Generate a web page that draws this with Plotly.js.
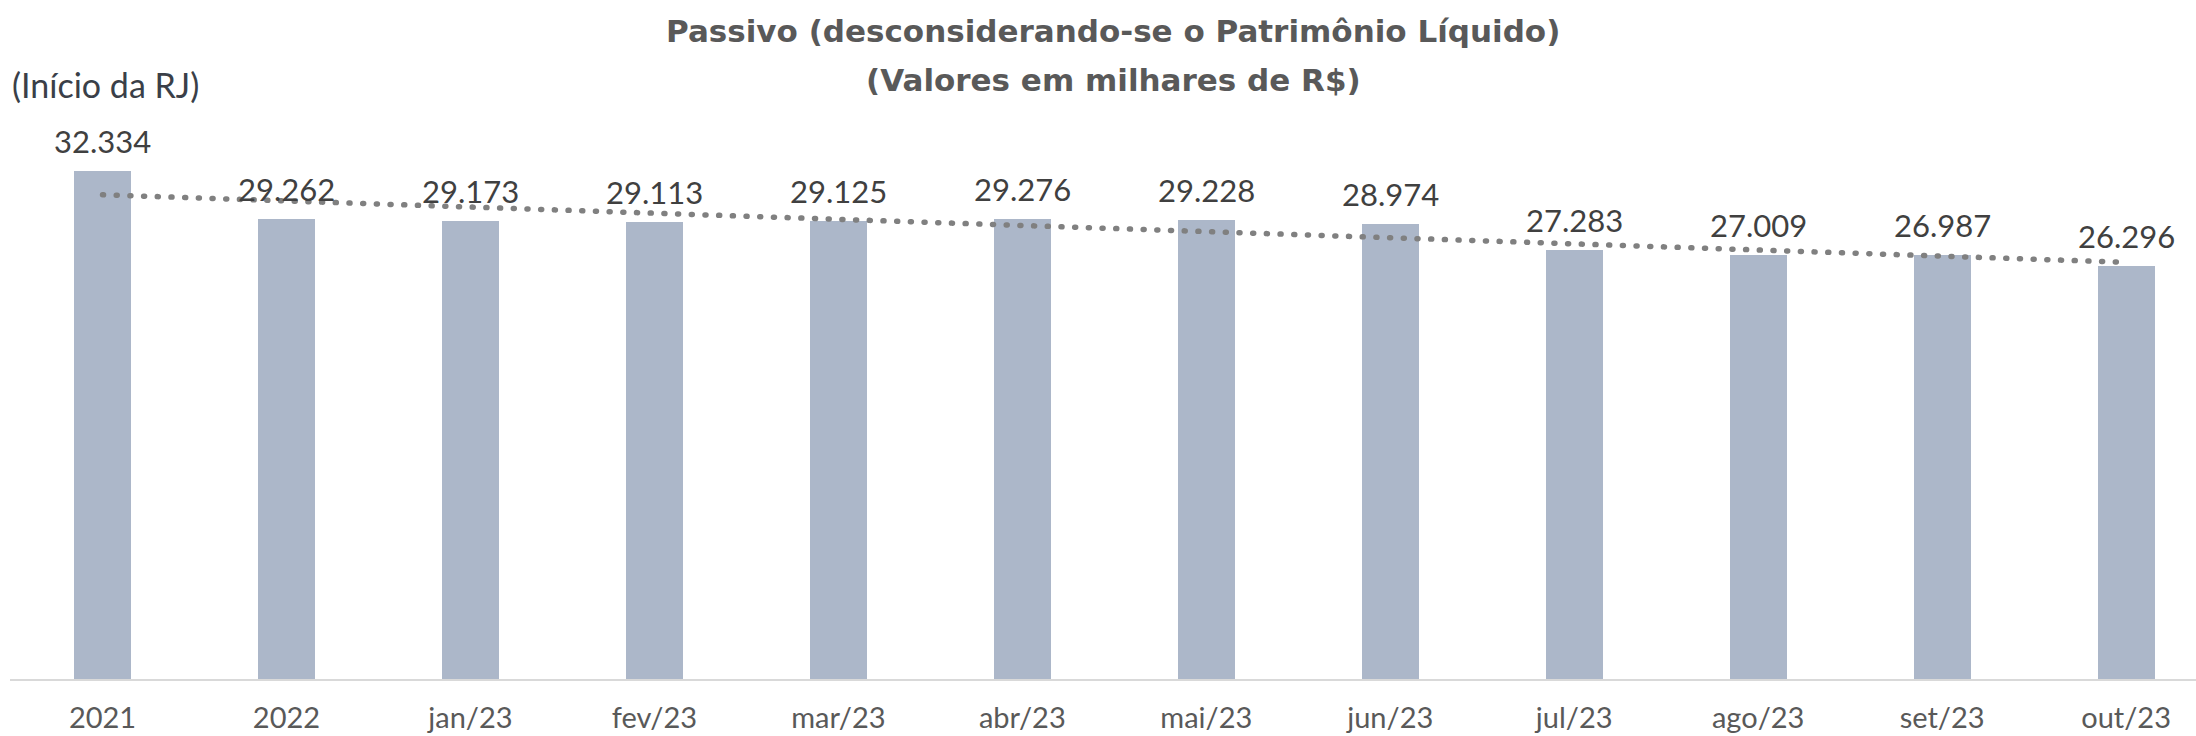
<!DOCTYPE html>
<html>
<head>
<meta charset="utf-8">
<script src="https://cdn.plot.ly/plotly-3.0.1.min.js"></script>
<style>
  html, body { margin: 0; padding: 0; background: #fff; }
  #chart { width: 2196px; height: 736px; }
  .scatterlayer .js-line { stroke-linecap: round !important; }
</style>
</head>
<body>
<div id="chart"></div>
<script>
const categories = ['2021', '2022', 'jan/23', 'fev/23', 'mar/23', 'abr/23', 'mai/23', 'jun/23', 'jul/23', 'ago/23', 'set/23', 'out/23'];
const values = [32334, 29262, 29173, 29113, 29125, 29276, 29228, 28974, 27283, 27009, 26987, 26296];
const valueLabels = ['32.334', '29.262', '29.173', '29.113', '29.125', '29.276', '29.228', '28.974', '27.283', '27.009', '26.987', '26.296'];
const titleLines = ['Passivo (desconsiderando-se o Patrimônio Líquido)', '(Valores em milhares de R$)'];
const noteText = '(Início da RJ)';

// Linear trendline (least squares over category index), as in the source chart
const n = values.length;
const xs = values.map((_, i) => i);
const mx = xs.reduce((a, b) => a + b, 0) / n;
const my = values.reduce((a, b) => a + b, 0) / n;
let sxy = 0, sxx = 0;
for (let i = 0; i < n; i++) { sxy += (xs[i] - mx) * (values[i] - my); sxx += (xs[i] - mx) ** 2; }
const slope = sxy / sxx;
const intercept = my - slope * mx;
const trend = xs.map(x => intercept + slope * x);

const FONT = 'Lato, "Open Sans", sans-serif';
const TITLE_FONT = '"DejaVu Sans", "Open Sans", sans-serif';

// plot area geometry helpers (pixels -> paper)
const PLOT_TOP = 100, PLOT_BOTTOM = 679, PLOT_LEFT = 10, PLOT_W = 2186;
const py = p => (PLOT_BOTTOM - p) / (PLOT_BOTTOM - PLOT_TOP);
const px = p => (p - PLOT_LEFT) / PLOT_W;

const bars = {
  type: 'bar',
  x: xs,
  y: values,
  width: 0.31,
  marker: { color: '#ACB7C9', line: { width: 0 } },
  hoverinfo: 'skip',
  showlegend: false
};

const trendLine = {
  type: 'scatter',
  mode: 'lines',
  x: xs,
  y: trend,
  line: { color: '#808080', width: 5.5, dash: '1px,12.7px' },
  hoverinfo: 'skip',
  showlegend: false
};

const annotations = values.map((v, i) => ({
  x: i, y: v, xref: 'x', yref: 'y',
  text: valueLabels[i],
  showarrow: false,
  xanchor: 'center', yanchor: 'middle',
  yshift: 30,
  font: { family: FONT, size: 31, color: '#404040' }
}));

annotations.push({
  xref: 'paper', yref: 'paper',
  x: px(10), y: py(84),
  xanchor: 'left', yanchor: 'middle',
  text: noteText,
  showarrow: false,
  font: { family: FONT, size: 34, color: '#3a3f48' }
});

const titleY = [31, 80];
titleLines.forEach((t, k) => annotations.push({
  xref: 'paper', yref: 'paper',
  x: px(1113), y: py(titleY[k]),
  xanchor: 'center', yanchor: 'middle',
  text: '<b>' + t + '</b>',
  showarrow: false,
  font: { family: TITLE_FONT, size: 31, color: '#595959' }
}));

const layout = {
  width: 2196,
  height: 736,
  margin: { l: PLOT_LEFT, r: 0, t: PLOT_TOP, b: 736 - PLOT_BOTTOM, pad: 0 },
  paper_bgcolor: '#ffffff',
  plot_bgcolor: '#ffffff',
  xaxis: {
    type: 'linear',
    range: [-0.503, 11.38],
    tickmode: 'array',
    tickvals: xs,
    ticktext: categories,
    showgrid: false,
    zeroline: false,
    showline: true,
    linecolor: '#d9d9d9',
    linewidth: 2,
    ticks: '',
    ticklabelstandoff: 12,
    tickfont: { family: FONT, size: 29, color: '#595959' },
    fixedrange: true
  },
  yaxis: {
    range: [0, 36853],
    visible: false,
    showgrid: false,
    zeroline: false,
    fixedrange: true
  },
  annotations: annotations,
  bargap: 0,
  showlegend: false
};

Plotly.newPlot('chart', [bars, trendLine], layout, { displayModeBar: false, staticPlot: true });
</script>
</body>
</html>
